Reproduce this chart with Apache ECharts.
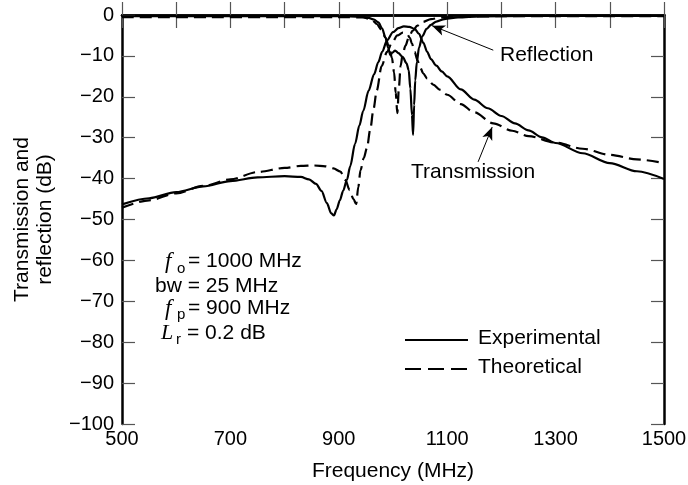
<!DOCTYPE html>
<html>
<head>
<meta charset="utf-8">
<script src="https://cdn.jsdelivr.net/npm/echarts@6/dist/echarts.min.js"></script>
<style>
  html, body { margin: 0; padding: 0; background: #fff; }
  #chart { width: 688px; height: 485px; }
</style>
</head>
<body>
<div id="chart"></div>
<script>
  // [frequency MHz, dB]
  var expTrans = [[500,-46.3],[550,-44.8],[600,-43.3],[650,-41.9],[700,-40.6],[750,-39.7],[800,-39.4],[830,-39.6],[845,-40.2],[858,-41.3],[868,-43],[878,-46],[886,-48.5],[891,-49],[896,-47.5],[902,-45.3],[908,-43],[915,-40.3],[921,-37],[930,-31.5],[938,-27],[945,-23.5],[955,-18.5],[965,-14.5],[973,-11.5],[980,-9],[989,-6.2],[1000,-4.2],[1010,-3.2],[1020,-2.8],[1030,-2.9],[1040,-3.4],[1048,-4.6],[1056,-6.8],[1063,-9],[1070,-10.8],[1080,-12.4],[1090,-13.8],[1100,-15],[1125,-18.2],[1150,-20.7],[1175,-22.8],[1200,-24.7],[1225,-26.5],[1250,-28.2],[1275,-29.9],[1300,-31.3],[1350,-33.8],[1400,-36.2],[1450,-38.2],[1500,-40.1]]
  var expRefl = [[500,-0.3],[900,-0.3],[940,-0.4],[955,-0.7],[965,-1.1],[973,-1.8],[980,-3.3],[986,-5.5],[991,-8],[995,-9.8],[999,-9.2],[1004,-8.7],[1010,-9.3],[1018,-10.3],[1025,-11.8],[1029,-13.5],[1032,-18],[1035,-24.5],[1037,-29.3],[1039,-22],[1041,-16],[1044,-11.5],[1048,-8],[1054,-5.2],[1062,-3.4],[1070,-2.4],[1080,-1.6],[1095,-1],[1120,-0.6],[1160,-0.35],[1250,-0.25],[1500,-0.2]]
  var theoTrans = [[500,-47.1],[550,-45.3],[600,-43.6],[650,-41.8],[700,-40.2],[750,-38.4],[800,-37.4],[830,-36.9],[855,-36.8],[875,-37],[890,-37.5],[903,-38.3],[912,-40.3],[920,-42.8],[927,-45],[932,-46.2],[936,-42],[940,-38],[946,-35],[952,-32.5],[958,-28],[964,-23],[970,-18.5],[979,-12.5],[989,-9],[998,-6.8],[1008,-5],[1018,-4.3],[1026,-4.6],[1031,-5.6],[1035,-7],[1040,-9],[1045,-11],[1050,-12.8],[1056,-14.3],[1063,-15.5],[1074,-17],[1087,-18.3],[1100,-19.5],[1125,-21.8],[1150,-23.8],[1185,-26.5],[1220,-28.3],[1250,-29.6],[1300,-31.2],[1350,-32.7],[1400,-34.2],[1450,-35.3],[1500,-36.2]]
  var theoRefl = [[500,-0.5],[900,-0.5],[945,-0.6],[955,-0.9],[962,-1.3],[970,-2.2],[978,-3.5],[986,-5.5],[993,-8],[998,-10.5],[1002,-14],[1005,-19],[1008,-24],[1011,-17.5],[1014,-12.5],[1018,-9.5],[1023,-7.5],[1029,-5.5],[1036,-3.9],[1045,-2.6],[1055,-1.7],[1070,-1],[1090,-0.6],[1120,-0.4],[1200,-0.3],[1500,-0.3]]

  // arrows: [tail, tip]
  var reflArrow = [[1185,-8.6],[1072,-2.6]]
  var transArrow = [[1157,-35.9],[1183,-27.4]]

  var xTicks = {min: 500, max: 1500, step: 100}
  var yTicks = {min: -100, max: 0, step: 10}

  var FONT = "'Liberation Sans', Arial, Helvetica, sans-serif"
  var SERIF = "'Liberation Serif', 'Times New Roman', serif"

  function minus(v){
    return v < 0 ? '\u2212' + Math.abs(v) : String(v)
  }

  var axisLineStyle = {color: '#000', width: 2.5}
  var tickStyle = {show: true, inside: true, length: 13, lineStyle: {color: '#555', width: 1.2}}

  var lineSeries = function(name, data, dashed){
    return {
      name: name,
      type: 'line',
      data: data,
      symbol: 'none',
      smooth: 0.3,
      smoothMonotone: 'x',
      silent: true,
      lineStyle: {color: '#000', width: 2.2, type: dashed ? [12, 6] : 'solid'},
      z: 3
    }
  }

  var arrowLine = function(pts){
    return [{coord: pts[0], symbol: 'none'}, {coord: pts[1], symbol: 'arrow', symbolSize: [8, 13]}]
  }

  var chart = echarts.init(document.getElementById('chart'))
  var option = {
    animation: false,
    backgroundColor: '#fff',
    grid: {left: 122, right: 24, top: 15, bottom: 61, containLabel: false, outerBoundsMode: 'none'},
    xAxis: [
      {
        type: 'value', min: xTicks.min, max: xTicks.max, interval: xTicks.step,
        position: 'bottom',
        name: 'Frequency (MHz)', nameLocation: 'middle', nameGap: 37,
        nameTextStyle: {fontFamily: FONT, fontSize: 21, color: '#000'},
        axisLine: {lineStyle: axisLineStyle},
        axisTick: tickStyle,
        splitLine: {show: false},
        axisLabel: {
          fontFamily: FONT, fontSize: 20, color: '#000', margin: 5,
          formatter: function(v){ return (v - 500) % 200 === 0 ? String(v) : '' }
        }
      },
      {
        type: 'value', min: xTicks.min, max: xTicks.max, interval: xTicks.step,
        position: 'top',
        axisLine: {lineStyle: axisLineStyle},
        axisTick: tickStyle,
        splitLine: {show: false},
        axisLabel: {show: false}
      }
    ],
    yAxis: [
      {
        type: 'value', min: yTicks.min, max: yTicks.max, interval: yTicks.step,
        position: 'left',
        name: 'Transmission and\nreflection (dB)', nameLocation: 'middle', nameGap: 65, nameRotate: 90,
        nameTextStyle: {fontFamily: FONT, fontSize: 21, color: '#000', lineHeight: 23},
        axisLine: {lineStyle: axisLineStyle},
        axisTick: tickStyle,
        splitLine: {show: false},
        axisLabel: {fontFamily: FONT, fontSize: 20, color: '#000', margin: 8, formatter: minus}
      },
      {
        type: 'value', min: yTicks.min, max: yTicks.max, interval: yTicks.step,
        position: 'right',
        axisLine: {lineStyle: axisLineStyle},
        axisTick: tickStyle,
        splitLine: {show: false},
        axisLabel: {show: false}
      }
    ],
    series: [
      Object.assign(lineSeries('Experimental transmission', expTrans, false), {
        markLine: {
          silent: true, animation: false,
          lineStyle: {color: '#000', width: 1, type: 'solid'},
          label: {show: false},
          data: [arrowLine(reflArrow), arrowLine(transArrow)]
        }
      }),
      lineSeries('Experimental reflection', expRefl, false),
      lineSeries('Theoretical transmission', theoTrans, true),
      lineSeries('Theoretical reflection', theoRefl, true)
    ],
    graphic: [
      {type: 'text', left: 500, top: 45, style: {text: 'Reflection', font: '21px ' + FONT, fill: '#000'}},
      {type: 'text', left: 411, top: 162, style: {text: 'Transmission', font: '21px ' + FONT, fill: '#000'}},

      // parameter block
      {type: 'text', left: 165, top: 250, style: {text: 'f', font: 'italic 23px ' + SERIF, fill: '#000'}},
      {type: 'text', left: 177, top: 261, style: {text: 'o', font: '15px ' + FONT, fill: '#000'}},
      {type: 'text', left: 188, top: 251, style: {text: '= 1000 MHz', font: '21px ' + FONT, fill: '#000'}},
      {type: 'text', left: 155, top: 276, style: {text: 'bw = 25 MHz', font: '21px ' + FONT, fill: '#000'}},
      {type: 'text', left: 165, top: 297, style: {text: 'f', font: 'italic 23px ' + SERIF, fill: '#000'}},
      {type: 'text', left: 177, top: 307, style: {text: 'p', font: '15px ' + FONT, fill: '#000'}},
      {type: 'text', left: 188, top: 298, style: {text: '= 900 MHz', font: '21px ' + FONT, fill: '#000'}},
      {type: 'text', left: 161, top: 322, style: {text: 'L', font: 'italic 22px ' + SERIF, fill: '#000'}},
      {type: 'text', left: 176, top: 332, style: {text: 'r', font: '15px ' + FONT, fill: '#000'}},
      {type: 'text', left: 187, top: 323, style: {text: '= 0.2 dB', font: '21px ' + FONT, fill: '#000'}},

      // legend
      {type: 'line', shape: {x1: 405, y1: 340, x2: 468, y2: 340}, style: {stroke: '#000', lineWidth: 2.2}},
      {type: 'text', left: 478, top: 328, style: {text: 'Experimental', font: '21px ' + FONT, fill: '#000'}},
      {type: 'line', shape: {x1: 405, y1: 369, x2: 468, y2: 369}, style: {stroke: '#000', lineWidth: 2.2, lineDash: [16, 7]}},
      {type: 'text', left: 478, top: 357, style: {text: 'Theoretical', font: '21px ' + FONT, fill: '#000'}}
    ]
  }
  chart.setOption(option)
</script>
</body>
</html>
